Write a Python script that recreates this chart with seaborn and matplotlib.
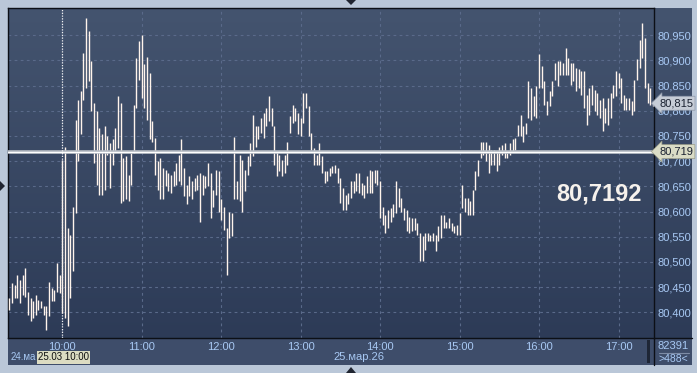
import numpy as np
import pandas as pd
import matplotlib
matplotlib.use("Agg")
import matplotlib.pyplot as plt
import matplotlib.transforms as mtransforms
from matplotlib.patches import Rectangle, Polygon
from matplotlib.lines import Line2D
from matplotlib.colors import LinearSegmentedColormap
import seaborn as sns

# ---------------- data ----------------
bar_start = "2026-03-25 09:20"
bar_step = "2min"

highs = [
    80.428, 80.458, 80.455, 80.475, 80.465, 80.475, 80.488, 80.441, 80.428, 80.422,
    80.435, 80.425, 80.423, 80.412, 80.412, 80.461, 80.448, 80.445, 80.498, 80.475,
    80.703, 80.729, 80.567, 80.554, 80.610, 80.782, 80.822, 80.839, 80.915, 80.984,
    80.958, 80.898, 80.816, 80.799, 80.766, 80.753, 80.769, 80.749, 80.736, 80.743,
    80.766, 80.829, 80.816, 80.706, 80.710, 80.673, 80.716, 80.812, 80.905, 80.938,
    80.951, 80.892, 80.906, 80.875, 80.779, 80.746, 80.700, 80.706, 80.686, 80.683,
    80.676, 80.673, 80.680, 80.696, 80.713, 80.743, 80.686, 80.653, 80.670, 80.660,
    80.667, 80.673, 80.676, 80.673, 80.670, 80.696, 80.676, 80.643, 80.683, 80.680,
    80.624, 80.610, 80.567, 80.600, 80.597, 80.747, 80.660, 80.713, 80.703, 80.683,
    80.710, 80.736, 80.792, 80.769, 80.769, 80.786, 80.796, 80.806, 80.829, 80.806,
    80.769, 80.720, 80.713, 80.703, 80.713, 80.739, 80.789, 80.812, 80.806, 80.796,
    80.786, 80.835, 80.835, 80.809, 80.756, 80.726, 80.713, 80.736, 80.710, 80.680,
    80.680, 80.686, 80.690, 80.693, 80.686, 80.667, 80.647, 80.633, 80.637, 80.660,
    80.660, 80.676, 80.676, 80.657, 80.653, 80.670, 80.683, 80.680, 80.683, 80.683,
    80.660, 80.610, 80.594, 80.604, 80.607, 80.614, 80.660, 80.647, 80.627, 80.607,
    80.604, 80.590, 80.587, 80.588, 80.577, 80.557, 80.551, 80.557, 80.557, 80.554,
    80.557, 80.554, 80.571, 80.594, 80.594, 80.580, 80.588, 80.577, 80.571, 80.574,
    80.597, 80.653, 80.627, 80.627, 80.620, 80.643, 80.680, 80.703, 80.739, 80.739,
    80.739, 80.733, 80.723, 80.723, 80.720, 80.729, 80.733, 80.736, 80.716, 80.736,
    80.743, 80.746, 80.772, 80.792, 80.769, 80.776, 80.859, 80.845, 80.829, 80.849,
    80.912, 80.888, 80.859, 80.819, 80.839, 80.859, 80.895, 80.898, 80.898, 80.895,
    80.925, 80.905, 80.895, 80.895, 80.885, 80.882, 80.878, 80.878, 80.832, 80.845,
    80.852, 80.842, 80.835, 80.822, 80.826, 80.806, 80.826, 80.835, 80.852, 80.878,
    80.875, 80.865, 80.832, 80.826, 80.826, 80.819, 80.862, 80.902, 80.941, 80.975,
    80.945, 80.855, 80.845, 80.819,
]

lows = [
    80.405, 80.418, 80.428, 80.428, 80.418, 80.435, 80.431, 80.395, 80.382, 80.388,
    80.395, 80.405, 80.408, 80.395, 80.365, 80.392, 80.422, 80.422, 80.441, 80.438,
    80.398, 80.388, 80.372, 80.428, 80.481, 80.597, 80.700, 80.753, 80.822, 80.845,
    80.859, 80.799, 80.696, 80.653, 80.633, 80.633, 80.643, 80.713, 80.647, 80.693,
    80.720, 80.726, 80.617, 80.620, 80.624, 80.620, 80.653, 80.716, 80.806, 80.862,
    80.826, 80.806, 80.782, 80.743, 80.739, 80.673, 80.643, 80.624, 80.624, 80.650,
    80.640, 80.637, 80.650, 80.653, 80.660, 80.653, 80.630, 80.614, 80.630, 80.624,
    80.640, 80.643, 80.580, 80.633, 80.647, 80.650, 80.587, 80.610, 80.633, 80.600,
    80.584, 80.564, 80.475, 80.547, 80.551, 80.624, 80.624, 80.620, 80.599, 80.640,
    80.673, 80.690, 80.710, 80.729, 80.743, 80.756, 80.746, 80.769, 80.779, 80.769,
    80.693, 80.670, 80.680, 80.670, 80.676, 80.693, 80.756, 80.776, 80.779, 80.753,
    80.749, 80.776, 80.806, 80.749, 80.723, 80.693, 80.693, 80.693, 80.676, 80.657,
    80.660, 80.670, 80.676, 80.676, 80.657, 80.617, 80.604, 80.604, 80.614, 80.627,
    80.637, 80.640, 80.637, 80.633, 80.627, 80.637, 80.637, 80.637, 80.657, 80.653,
    80.587, 80.574, 80.557, 80.567, 80.580, 80.590, 80.597, 80.610, 80.600, 80.584,
    80.561, 80.557, 80.561, 80.564, 80.554, 80.501, 80.501, 80.524, 80.541, 80.541,
    80.541, 80.521, 80.541, 80.547, 80.567, 80.567, 80.567, 80.561, 80.557, 80.554,
    80.554, 80.607, 80.600, 80.594, 80.594, 80.594, 80.643, 80.670, 80.706, 80.713,
    80.700, 80.676, 80.693, 80.693, 80.680, 80.693, 80.713, 80.706, 80.706, 80.713,
    80.720, 80.723, 80.749, 80.749, 80.739, 80.753, 80.786, 80.782, 80.789, 80.786,
    80.845, 80.845, 80.812, 80.792, 80.809, 80.829, 80.862, 80.849, 80.872, 80.872,
    80.872, 80.872, 80.852, 80.859, 80.839, 80.845, 80.832, 80.806, 80.772, 80.792,
    80.812, 80.799, 80.792, 80.786, 80.759, 80.776, 80.772, 80.786, 80.826, 80.829,
    80.845, 80.816, 80.802, 80.802, 80.802, 80.792, 80.799, 80.862, 80.885, 80.905,
    80.845, 80.816, 80.812, 80.809,
]

price_ticks = [80.40, 80.45, 80.50, 80.55, 80.60, 80.65, 80.70, 80.75, 80.80, 80.85, 80.90, 80.95]
time_ticks = ["10:00", "11:00", "12:00", "13:00", "14:00", "15:00", "16:00", "17:00"]
ref_price = 80.719
last_price = 80.815
big_quote = "80,7192"
cursor_time = "10:00"
cursor_label = "25.03 10:00"
prev_day_label = "24.ма"
day_label = "25.мар.26"
counter_top = "82391"
counter_bottom = ">488<"

# ---------------- styling ----------------
W, H = 697, 373
sns.set_style("dark")
plt.rcParams["font.family"] = ["Liberation Sans", "DejaVu Sans"]

outer_col = "#bac7d8"
bar_col = "#fff4ec"
axis_txt = "#a8c9f4"
strip_col = "#3e4d6a"
grid_col = "#5a6a8a"


def hm(s):
    h, m = s.split(":")
    return int(h) * 60 + int(m)


def fx(px):
    return px / W


def fy(py):
    return 1 - py / H


fig = plt.figure(figsize=(W / 100, H / 100), dpi=100, facecolor=outer_col)

# gradient panel background
bg = fig.add_axes([fx(8), fy(365), fx(692) - fx(8), fy(8) - fy(365)], zorder=0)
grad = np.linspace(0, 1, 256).reshape(-1, 1)
cmap = LinearSegmentedColormap.from_list("bgc", ["#44546f", "#2b3955"])
bg.imshow(grad, aspect="auto", cmap=cmap, extent=[0, 1, 0, 1], origin="upper")
bg.set_axis_off()

# bottom strip and small scroll marker
fig.patches.append(Rectangle((fx(8), fy(365)), fx(692) - fx(8), fy(338) - fy(365),
                             transform=fig.transFigure, fc=strip_col, ec="none", zorder=1))
fig.patches.append(Rectangle((fx(647), fy(363)), fx(650) - fx(647), fy(340) - fy(363),
                             transform=fig.transFigure, fc="#1e2636", ec="none", zorder=2))

ax = fig.add_axes([fx(8), fy(338), fx(654) - fx(8), fy(8) - fy(338)], zorder=3)
ax.set_facecolor("none")

# bars as long-form data
times = pd.date_range(bar_start, periods=len(highs), freq=bar_step)
minutes = times.hour * 60 + times.minute
n = len(highs)
df = pd.DataFrame({
    "bar": np.repeat(np.arange(n), 2),
    "minute": np.repeat(np.asarray(minutes, dtype=float), 2),
    "price": np.column_stack([lows, highs]).ravel(),
})
sns.lineplot(data=df, x="minute", y="price", units="bar", estimator=None,
             color=bar_col, linewidth=1.0, ax=ax, legend=False, sort=False,
             solid_capstyle="butt", zorder=4)

# reference price line
ax.axhline(ref_price, color="#b9bec6", lw=2.6, zorder=5)
ax.axhline(ref_price, color="#ffffff", lw=0.9, zorder=6)
# crosshair cursor
ax.axvline(hm(cursor_time), color="#f0f0f0", lw=0.9, ls=(0, (1, 1.2)), zorder=6)

ax.set_xlim(hm("09:19"), hm("17:26") + 0.8)
ax.set_ylim(80.349, 81.004)

ax.set_xticks([hm(t) for t in time_ticks])
ax.set_xticklabels(time_ticks)
ax.set_yticks(price_ticks)
ax.set_yticklabels([f"{p:.3f}".replace(".", ",") for p in price_ticks])
ax.yaxis.tick_right()
ax.tick_params(axis="x", length=0, pad=3, labelsize=8, labelcolor=axis_txt)
ax.tick_params(axis="y", length=0, pad=2.5, labelsize=8, labelcolor=axis_txt)
ax.set_xlabel("")
ax.set_ylabel("")
ax.grid(True, color=grid_col, lw=0.8, ls=(0, (2.5, 3)))
ax.set_axisbelow(True)
for s in ax.spines.values():
    s.set_visible(True)
    s.set_color("#0c0f16")
    s.set_linewidth(1.0)

# extend separators through the corner
fig.lines.append(Line2D([fx(654), fx(654)], [fy(338), fy(365)], transform=fig.transFigure,
                        color="#0c0f16", lw=1.0, zorder=4))
fig.lines.append(Line2D([fx(654), fx(692)], [fy(338), fy(338)], transform=fig.transFigure,
                        color="#0c0f16", lw=1.0, zorder=4))

# price label boxes on right axis
blend = mtransforms.blended_transform_factory(ax.transAxes, ax.transData)
ax.text(1 + 5 / 646, last_price, f"{last_price:.3f}".replace(".", ","), transform=blend,
        ha="left", va="center", fontsize=8, color="#1a2130", zorder=10, clip_on=False,
        bbox=dict(boxstyle="larrow,pad=0.18", fc="#c6ccd6", ec="#8e98aa", lw=0.5))
ax.text(1 + 5 / 646, ref_price, f"{ref_price:.3f}".replace(".", ","), transform=blend,
        ha="left", va="center", fontsize=8, color="#1a2130", zorder=10, clip_on=False,
        bbox=dict(boxstyle="larrow,pad=0.18", fc="#dadcc6", ec="#9a9c88", lw=0.5))

# big quote
fig.text(fx(599), fy(194), big_quote, ha="center", va="center", fontsize=17,
         fontweight="bold", color="#f6f1ec", zorder=10)

# bottom strip texts
fig.text(fx(11), fy(357.5), prev_day_label, ha="left", va="center", fontsize=7,
         color=axis_txt, zorder=5)
fig.text(fx(63.5), fy(357.5), cursor_label, ha="center", va="center", fontsize=7,
         color="#101010", zorder=6,
         bbox=dict(boxstyle="square,pad=0.12", fc="#dcdcc2", ec="none"))
fig.text(fx(359), fy(357.5), day_label, ha="center", va="center", fontsize=8,
         color=axis_txt, zorder=5)

# counter in the corner
fig.text(fx(673), fy(346), counter_top, ha="center", va="center", fontsize=8,
         color=axis_txt, zorder=5)
fig.lines.append(Line2D([fx(659), fx(689)], [fy(352.5), fy(352.5)], transform=fig.transFigure,
                        color="#7d8ca6", lw=0.8, zorder=5))
fig.text(fx(673), fy(359), counter_bottom, ha="center", va="center", fontsize=7.5,
         color=axis_txt, zorder=5)

# small navigation triangles
tri_col = "#1f2430"
fig.patches.append(Polygon([(fx(346), fy(0)), (fx(356), fy(0)), (fx(351), fy(5))],
                           closed=True, transform=fig.transFigure, fc=tri_col, ec="none", zorder=6))
fig.patches.append(Polygon([(fx(346), fy(373)), (fx(356), fy(373)), (fx(351), fy(367))],
                           closed=True, transform=fig.transFigure, fc=tri_col, ec="none", zorder=6))
fig.patches.append(Polygon([(fx(0), fy(181)), (fx(0), fy(191)), (fx(5), fy(186))],
                           closed=True, transform=fig.transFigure, fc=tri_col, ec="none", zorder=6))

fig.savefig("out.png", dpi=100, facecolor=outer_col)
